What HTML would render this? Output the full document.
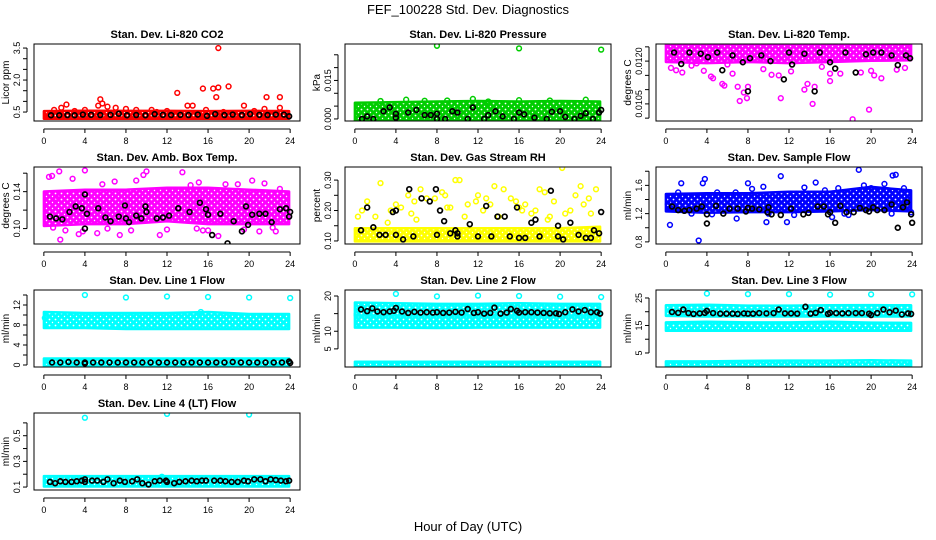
<!DOCTYPE html>
<html><head><meta charset="utf-8"><style>
body{margin:0;background:#fff;}
svg{display:block;font-family:"Liberation Sans",sans-serif;}
</style></head><body>
<svg id="chart" width="936" height="540">
<defs id="defs"></defs>
<text x="468" y="14" text-anchor="middle" font-size="13">FEF_100228  Std. Dev. Diagnostics</text>
<text x="468" y="531" text-anchor="middle" font-size="13">Hour of Day (UTC)</text>
</svg>
<script>
// shared x ticks
const xTicks = [0,4,8,12,16,20,24];
const bandHours = [0,4,8,12,16,20,23.9];

// P1 CO2
const co2BandLo = [0.28,0.28,0.28,0.28,0.28,0.28,0.28];
const co2BandHi = [0.45,0.47,0.46,0.46,0.45,0.46,0.45];
const co2X = [1,1.7,2.2,4,5.5,5.7,5.3,7,8,9,10.5,12,13,14,14.5,15.5,16.5,16.8,17,17.5,18,15.8,19.5,21.5,21.7,23,23,17,3,11,6.2,20.5];
const co2Y = [0.6,0.7,0.85,0.6,1.1,0.9,0.8,0.7,0.65,0.6,0.6,0.55,1.4,0.8,0.8,1.6,1.6,1.2,1.65,0.5,1.7,0.6,0.8,0.65,1.2,1.2,0.7,3.5,0.55,0.5,0.75,0.55];
const co2BX = [0.7,1.5,2.3,3,3.8,4.6,5.5,6.5,7.3,8.1,9,9.9,10.8,11.6,12.4,13.3,14.1,15,15.9,16.7,17.6,18.4,19.3,20.1,21,21.8,22.6,23.4,23.9];
const co2BY = [0.35,0.35,0.36,0.35,0.38,0.37,0.36,0.37,0.42,0.35,0.36,0.35,0.4,0.37,0.36,0.37,0.36,0.38,0.32,0.4,0.36,0.38,0.36,0.4,0.37,0.36,0.38,0.38,0.3];

// P2 Pressure
const prBandLo = [0.0,0.0,0.0,0.0,0.0,0.0,0.0];
const prBandHi = [0.0055,0.0058,0.006,0.0062,0.006,0.0062,0.006];
const prX = [8,16,24,5,9,11.5,16,22.5,13,19,2.5,6.8];
const prY = [0.0285,0.0275,0.027,0.0075,0.0072,0.0078,0.0073,0.0075,0.0068,0.0072,0.007,0.0071];
const prBX = [0.7,1.2,1.8,2.8,3.4,4,4,5.2,6,6.8,7.4,8,8,8.8,9.5,10,11,11.5,12.6,13,13.7,14.4,15.5,16,16.5,17.5,18.7,19.2,20,20.5,21.4,22,22.5,23.2,23.8,24];
const prBY = [0.0,0.001,0.0,0.003,0.0045,0.002,0.0005,0.0025,0.0035,0.0015,0.0015,0.002,0.0,0.0,0.003,0.0025,0.0,0.0045,0.0,0.0015,0.003,0.001,0.0,0.0025,0.0018,0.0005,0.0,0.0028,0.003,0.0008,0.0,0.0012,0.0022,0.0,0.0025,0.0035];

// P3 Li-820 Temp (units of 1e-4)
const ltBandLo = [115.2,115.0,115.2,115.0,115.2,115.4,115.5];
const ltBandHi = [118,118,118,118,118,118,118];
const ltX = [0.5,1.0,1.6,3.7,4.4,4.6,5.5,5.7,6.5,7.0,7.2,7.6,8.0,7.9,11.2,11.0,13.5,13.8,14.3,14.5,16.0,16.0,17.0,18.2,19.0,20.0,20.3,21.0,19.8,22.5,23.3,2.5,9.5,12.2,15.2,10.3,3.0,6.0];
const ltY = [113.8,113.4,113.0,113.3,112.3,112.0,111.0,110.7,112.8,110.5,108.0,109.5,110.5,108.5,108.5,112.5,110.0,111.0,107.5,110.5,111.5,112.8,112.8,104.8,113.0,113.3,112.5,112.0,106.5,113.5,113.8,114.2,113.6,113.2,114.0,112.6,114.6,114.4];
const ltBX = [0.8,1.5,2.3,3.4,4.1,5,5.5,6.5,7.5,8,8.2,9.3,10.2,11.5,12,12.3,13.5,14.5,15,16,16.5,17.5,18.5,19.5,20.2,21,22,22.6,23.4,23.8];
const ltBY = [116.5,114.5,116.5,116.3,115.7,116.5,113.4,116.0,114.8,109.7,115.5,116.0,115.0,111.8,116.5,114.4,116.3,109.7,116.5,114.8,113.7,116.5,113.0,116.2,116.5,116.5,116.0,114.3,116.0,115.5];

// P4 Amb Box Temp
const abBandLo = [0.105,0.107,0.107,0.11,0.107,0.107,0.107];
const abBandHi = [0.138,0.14,0.14,0.142,0.142,0.14,0.138];
const abX = [0.5,0.8,1.5,1.6,2.8,4.0,3.4,5.7,6.9,7.4,9.7,10,11.3,13.5,14.3,15.1,16,17,18.9,20.3,21.5,22.6,23,1.2,2.1,5.2,8.5,12,15.5,19.5,21,0.9,3.8,6.2,9,14.9,17.7,22.3];
const abY = [0.156,0.157,0.162,0.088,0.154,0.163,0.094,0.148,0.151,0.093,0.158,0.162,0.093,0.161,0.147,0.15,0.098,0.092,0.148,0.152,0.149,0.097,0.143,0.133,0.098,0.095,0.098,0.099,0.098,0.099,0.097,0.101,0.097,0.1,0.152,0.1,0.148,0.101];
const abBX = [0.6,1.2,1.8,2.5,3.1,3.7,4,4,4.2,5.3,6,6.5,7.3,7.9,8,8.3,9,9.5,9.9,10,11,11.6,12.2,13.1,14.2,15.2,15.8,16,16.4,17.2,17.9,18.5,19.3,19.7,19.9,20.3,21,21.6,22.2,23,23.6,23.9,24];
const abBY = [0.113,0.111,0.11,0.118,0.124,0.122,0.1,0.137,0.116,0.122,0.112,0.108,0.113,0.125,0.111,0.107,0.114,0.111,0.124,0.118,0.111,0.112,0.114,0.122,0.118,0.128,0.121,0.115,0.093,0.116,0.084,0.108,0.097,0.124,0.104,0.115,0.116,0.116,0.107,0.121,0.122,0.113,0.118];

// P5 Gas Stream RH
const rhBandLo = [0.105,0.105,0.105,0.105,0.105,0.105,0.105];
const rhBandHi = [0.135,0.135,0.135,0.135,0.135,0.135,0.14];
const rhX = [0.3,1.2,2.5,3.5,4.5,5.2,5.8,6.4,7.0,7.8,8.5,9.3,9.8,10.2,11,11.8,12.5,13.2,13.6,14.5,15.2,16,16.6,17.2,18,18.5,19.4,20.2,21,21.5,22,22.8,23.5,0.7,2.0,4.0,6.0,8.8,10.7,12.0,14.0,15.7,17.6,19.0,20.5,22.3,3.2,5.5,9.0,12.8,16.3,18.8,23.0];
const rhY = [0.18,0.23,0.29,0.2,0.21,0.25,0.23,0.27,0.24,0.24,0.26,0.21,0.3,0.3,0.22,0.23,0.2,0.22,0.28,0.27,0.24,0.21,0.22,0.19,0.27,0.26,0.23,0.34,0.2,0.25,0.28,0.24,0.27,0.2,0.18,0.22,0.17,0.25,0.18,0.25,0.18,0.23,0.2,0.18,0.19,0.22,0.16,0.19,0.21,0.24,0.2,0.17,0.19];
const rhBX = [0.6,1.2,1.8,2.4,3.0,3.7,4.0,4.0,4.7,5.3,5.7,6.5,7.3,7.9,8.0,8.3,8.7,9.3,9.8,10.0,10.0,11.2,12.0,12.8,13.3,13.9,14.6,15.1,15.8,16.0,16.6,17.2,17.6,18.0,19.1,19.8,19.8,20.3,21.0,21.8,22.5,23.0,23.3,23.8,24.0];
const rhBY = [0.135,0.21,0.145,0.12,0.12,0.195,0.12,0.2,0.105,0.27,0.115,0.24,0.23,0.27,0.12,0.2,0.165,0.125,0.135,0.115,0.125,0.155,0.115,0.215,0.115,0.18,0.18,0.115,0.21,0.11,0.11,0.16,0.17,0.115,0.265,0.115,0.15,0.105,0.16,0.12,0.11,0.11,0.135,0.125,0.195];

// P6 Sample Flow
const sfBandLo = [1.26,1.24,1.25,1.25,1.26,1.28,1.26];
const sfBandHi = [1.45,1.46,1.46,1.48,1.48,1.55,1.5];
const sfX = [0.2,0.4,1.5,3.2,3.8,3.6,5,6.9,8,8.4,10,9.5,11.2,11.8,13.5,14.6,15.5,16.2,16.8,17.4,18.8,19.3,20,21.3,22.1,22.4,23.2,23.9,1.2,9.8,22,6.8,2.5,4.5,12.5,17.8];
const sfY = [1.33,1.04,1.63,0.82,1.69,1.63,1.5,1.13,1.63,1.55,1.2,1.58,1.73,1.08,1.57,1.64,1.53,1.15,1.56,1.2,1.82,1.6,1.56,1.62,1.74,1.75,1.56,1.22,1.5,1.08,1.2,1.5,1.2,1.19,1.18,1.18];
const sfBX = [0.6,1.2,1.8,2.3,3.0,3.5,4.0,4.0,4.9,5.6,6.2,7.0,7.8,8.0,8.4,9.1,9.9,10.0,10.3,11.2,12.2,13.4,13.9,14.8,15.4,15.8,16.0,16.5,17.0,17.6,18.3,18.9,19.5,19.8,20.2,20.6,21.3,22.0,22.6,23.1,23.5,23.9,24.0];
const sfBY = [1.3,1.25,1.24,1.25,1.27,1.3,1.19,1.06,1.31,1.2,1.27,1.27,1.23,1.28,1.27,1.26,1.22,1.29,1.19,1.18,1.27,1.19,1.21,1.3,1.3,1.19,1.22,1.07,1.31,1.22,1.22,1.28,1.25,1.23,1.29,1.25,1.25,1.33,1.0,1.29,1.36,1.19,1.07];

// P7 Line 1 Flow
const l1BandLo = [7.8,7.8,7.6,7.6,7.6,7.6,7.6];
const l1BandHi = [10.2,10.0,10.0,10.0,10.2,9.8,9.8];
const l1Band2Lo = [0.2,0.2,0.2,0.2,0.2,0.2,0.2];
const l1Band2Hi = [0.9,0.9,0.9,0.9,0.9,0.9,0.9];
const l1X = [4,8,12,16,20,24,15.3,0.1];
const l1Y = [14,13.5,13.7,13.6,13.5,13.4,10.6,9.4];
const l1BX = [0.8,1.6,2.4,3.2,4,4,4.8,5.6,6.4,7.2,8,8.8,9.6,10.4,11.2,12,12.8,13.6,14.4,15.2,16,16.8,17.6,18.4,19.2,20,20.8,21.6,22.4,23.2,24,23.9];
const l1BY = [0.5,0.5,0.6,0.5,0.5,0.3,0.5,0.5,0.5,0.5,0.5,0.5,0.5,0.5,0.5,0.5,0.5,0.5,0.5,0.5,0.5,0.5,0.5,0.6,0.5,0.5,0.5,0.5,0.5,0.5,0.4,0.7];

// P8 Line 2 Flow
const l2BandLo = [11.6,11.6,11.5,11.6,11.6,11.6,11.6];
const l2BandHi = [14.4,14.2,14.2,14.2,14.3,14.2,14.2];
const l2Band2Lo = [15.0,15.0,15.0,15.0,15.0,15.0,15.0];
const l2Band2Hi = [17.6,17.4,17.2,17.2,17.4,17.2,17.2];
const l2Band3Lo = [0.1,0.1,0.1,0.1,0.1,0.1,0.1];
const l2Band3Hi = [0.8,0.8,0.8,0.8,0.8,0.8,0.8];
const l2X = [4,8,12,16,20,24,13.6];
const l2Y = [20.6,19.9,20.1,20.0,19.8,19.7,16.8];
const l2BX = [0.6,1.2,1.7,2.2,2.8,3.4,3.8,4.0,4.6,5.2,5.8,6.4,7.0,7.6,8.0,8.6,9.2,9.8,10.4,11.0,11.6,12.0,12.6,13.2,13.6,14.2,14.8,15.2,15.8,16.0,16.6,17.2,17.8,18.4,19.0,19.6,19.9,20.5,21.2,21.8,22.4,23.0,23.6,23.9];
const l2BY = [16.2,15.7,16.5,15.6,15.4,15.6,15.8,16.6,15.6,15.2,15.5,15.3,15.4,15.3,15.4,15.2,15.3,15.5,15.3,16.3,15.2,15.4,15.0,15.2,16.7,15.0,15.3,16.3,15.8,15.3,15.4,15.4,15.3,15.2,15.1,15.1,14.9,15.4,16.2,15.6,16.0,15.4,15.4,15.0];

// P9 Line 3 Flow
const l3BandLo = [19.2,19.0,19.0,19.0,19.0,19.0,19.0];
const l3BandHi = [21.6,21.8,21.5,21.5,21.6,21.7,21.6];
const l3Band2Lo = [13.8,13.8,13.8,13.8,13.8,13.8,13.8];
const l3Band2Hi = [15.4,15.6,15.4,15.4,15.6,15.3,15.2];
const l3Band3Lo = [0.2,0.2,0.2,0.2,0.2,0.2,0.2];
const l3Band3Hi = [1.2,1.2,1.4,1.5,1.5,1.6,1.5];
const l3X = [4,8,12,16,20,24];
const l3Y = [26.6,26.4,26.4,26.2,26.3,26.3];
const l3BX = [0.6,1.2,1.7,2.2,2.7,3.3,3.8,4.0,4.6,5.3,5.9,6.5,7.0,7.6,8.0,8.5,9.1,9.8,10.5,11.0,11.6,12.2,12.8,13.6,14.1,14.6,15.1,15.8,16.0,16.6,17.2,17.8,18.5,19.1,19.8,20.0,20.6,21.2,21.8,22.4,23.0,23.6,23.9];
const l3BY = [19.9,19.6,20.8,19.5,19.2,19.4,19.6,20.3,19.5,19.3,19.3,19.3,19.2,19.4,19.3,19.3,19.5,19.4,19.5,20.8,19.4,19.4,19.3,21.8,19.3,19.6,20.6,19.2,19.6,19.5,19.4,19.5,19.5,19.5,19.3,18.8,19.5,20.8,19.8,20.4,19.0,19.4,19.2];

// P10 Line 4 (LT) Flow
const l4BandLo = [0.12,0.12,0.12,0.12,0.12,0.12,0.12];
const l4BandHi = [0.17,0.17,0.17,0.17,0.17,0.17,0.17];
const l4X = [4,12,20,11.5];
const l4Y = [0.64,0.67,0.665,0.18];
const l4BX = [0.6,1.1,1.6,2.1,2.7,3.2,3.7,4.0,4.0,4.7,5.2,5.8,6.2,6.8,7.4,7.9,8.6,9.1,9.6,10.2,10.8,11.3,11.9,12.0,12.7,13.2,13.8,14.4,14.9,15.4,15.8,16.6,17.2,17.7,18.3,18.9,19.5,19.9,20.5,21.1,21.6,22.1,22.6,23.1,23.6,23.9];
const l4BY = [0.14,0.13,0.145,0.14,0.14,0.145,0.15,0.16,0.14,0.15,0.15,0.14,0.16,0.13,0.15,0.14,0.145,0.16,0.13,0.12,0.145,0.15,0.15,0.14,0.13,0.14,0.145,0.15,0.145,0.15,0.15,0.15,0.15,0.145,0.14,0.14,0.15,0.145,0.16,0.16,0.145,0.16,0.155,0.15,0.145,0.15];

const NS = 'http://www.w3.org/2000/svg';
const svg = document.getElementById('chart');
const defs = document.getElementById('defs');
function mk(tag, attrs, parent){
  const e = document.createElementNS(NS, tag);
  for (const k in attrs) e.setAttribute(k, attrs[k]);
  parent.appendChild(e);
  return e;
}

const panels = [
 {key:'co2',title:'Stan. Dev. Li-820 CO2',ylab:'Licor ppm',col:0,row:0,ymin:0.08,ymax:3.69,ticks:[0.5,1,1.5,2,2.5,3,3.5],labels:['0.5','','','2.0','','','3.5'],color:'#ff0000',bands:[[co2BandLo,co2BandHi]],px:co2X,py:co2Y,bx:co2BX,by:co2BY},
 {key:'pressure',title:'Stan. Dev. Li-820 Pressure',ylab:'kPa',col:1,row:0,ymin:-0.0008,ymax:0.0292,ticks:[0,0.005,0.01,0.015,0.02,0.025],labels:['0.000','','','0.015','',''],color:'#00cd00',bands:[[prBandLo,prBandHi]],px:prX,py:prY,bx:prBX,by:prBY},
 {key:'li-temp',title:'Stan. Dev. Li-820 Temp.',ylab:'degrees C',col:2,row:0,ymin:104.5,ymax:118,ticks:[105,107.5,110,112.5,115,117.5],labels:['','0.0105','','','0.0120',''],color:'#ff00ff',bands:[[ltBandLo,ltBandHi]],px:ltX,py:ltY,bx:ltBX,by:ltBY},
 {key:'amb-box',title:'Stan. Dev. Amb. Box Temp.',ylab:'degrees C',col:0,row:1,ymin:0.0833,ymax:0.1667,ticks:[0.1,0.12,0.14,0.16],labels:['0.10','','0.14',''],color:'#ff00ff',bands:[[abBandLo,abBandHi]],px:abX,py:abY,bx:abBX,by:abBY},
 {key:'rh',title:'Stan. Dev. Gas Stream RH',ylab:'percent',col:1,row:1,ymin:0.09,ymax:0.343,ticks:[0.1,0.15,0.2,0.25,0.3],labels:['0.10','','0.20','','0.30'],color:'#ffff00',bands:[[rhBandLo,rhBandHi]],px:rhX,py:rhY,bx:rhBX,by:rhBY},
 {key:'sample-flow',title:'Stan. Dev. Sample Flow',ylab:'ml/min',col:2,row:1,ymin:0.77,ymax:1.86,ticks:[0.8,1,1.2,1.4,1.6,1.8],labels:['0.8','','1.2','','1.6',''],color:'#0000ff',bands:[[sfBandLo,sfBandHi]],px:sfX,py:sfY,bx:sfBX,by:sfBY},
 {key:'line1',title:'Stan. Dev. Line 1 Flow',ylab:'ml/min',col:0,row:2,ymin:-0.4,ymax:15,ticks:[0,2,4,6,8,10,12,14],labels:['0','','4','','8','','12',''],color:'#00ffff',bands:[[l1BandLo,l1BandHi],[l1Band2Lo,l1Band2Hi]],px:l1X,py:l1Y,bx:l1BX,by:l1BY},
 {key:'line2',title:'Stan. Dev. Line 2 Flow',ylab:'ml/min',col:1,row:2,ymin:-0.14,ymax:21.7,ticks:[5,10,15,20],labels:['5','10','','20'],color:'#00ffff',bands:[[l2BandLo,l2BandHi],[l2Band2Lo,l2Band2Hi],[l2Band3Lo,l2Band3Hi]],px:l2X,py:l2Y,bx:l2BX,by:l2BY},
 {key:'line3',title:'Stan. Dev. Line 3 Flow',ylab:'ml/min',col:2,row:2,ymin:-0.1,ymax:27.9,ticks:[5,10,15,20,25],labels:['5','','15','','25'],color:'#00ffff',bands:[[l3BandLo,l3BandHi],[l3Band2Lo,l3Band2Hi],[l3Band3Lo,l3Band3Hi]],px:l3X,py:l3Y,bx:l3BX,by:l3BY},
 {key:'line4',title:'Stan. Dev. Line 4 (LT) Flow',ylab:'ml/min',col:0,row:3,ymin:0.077,ymax:0.677,ticks:[0.1,0.2,0.3,0.4,0.5,0.6],labels:['0.1','','0.3','','0.5',''],color:'#00ffff',bands:[[l4BandLo,l4BandHi]],px:l4X,py:l4Y,bx:l4BX,by:l4BY}
];

// ring-texture patterns for dense point clouds
const patMade = {};
function patternFor(color){
  const id = 'pat' + color.slice(1);
  if (patMade[id]) return id;
  patMade[id] = true;
  const pat = mk('pattern', {id: id, patternUnits: 'userSpaceOnUse', width: 6, height: 6}, defs);
  mk('rect', {x: 0, y: 0, width: 6, height: 6, fill: color}, pat);
  mk('circle', {cx: 1.5, cy: 1.5, r: 0.9, fill: '#fff'}, pat);
  mk('circle', {cx: 4.5, cy: 4.5, r: 0.7, fill: '#fff'}, pat);
  return id;
}

const colLeft = [34,345,656], rowTop = [44,167,290,413], W = 266, H = 77;
const XMIN = -0.96, XMAX = 24.96;

panels.forEach(p => {
  const L = colLeft[p.col], T = rowTop[p.row], B = T + H;
  const xs = v => L + (v - XMIN) / (XMAX - XMIN) * W;
  const ys = v => B - (v - p.ymin) / (p.ymax - p.ymin) * H;
  const g = mk('g', {}, svg);
  
  
  const clipId = 'clip-' + p.key;
  const cp = mk('clipPath', {id: clipId}, g);
  mk('rect', {x: L, y: T, width: W, height: H}, cp);
  const marks = mk('g', {'clip-path': 'url(#' + clipId + ')'}, g);
  const pid = patternFor(p.color);
  p.bands.forEach((bd) => {
    const lo = bd[0], hi = bd[1];
    let d = '';
    bandHours.forEach((h, i) => { d += (i ? 'L' : 'M') + xs(h).toFixed(1) + ',' + (ys(hi[i]) - 2).toFixed(1); });
    for (let i = bandHours.length - 1; i >= 0; i--) d += 'L' + xs(bandHours[i]).toFixed(1) + ',' + (ys(lo[i]) + 2).toFixed(1);
    d += 'Z';
    const band = mk('path', {d: d, fill: 'url(#' + pid + ')', stroke: p.color, 'stroke-width': 2.5, 'stroke-linejoin': 'round'}, marks);
    
    
  });
  p.px.forEach((x, i) => {
    const c = mk('circle', {cx: xs(x), cy: ys(p.py[i]), r: 2.4, fill: 'none', stroke: p.color, 'stroke-width': 1.5}, marks);
    
    
  });
  p.bx.forEach((x, i) => {
    const c = mk('circle', {cx: xs(x), cy: ys(p.by[i]), r: 2.4, fill: 'none', stroke: '#000', 'stroke-width': 1.7}, marks);
    
    
  });
  const box = mk('rect', {x: L, y: T, width: W, height: H, fill: 'none', stroke: '#000', 'stroke-width': 1}, g);
  
  
  const t = mk('text', {x: L + W / 2, y: T - 6, 'text-anchor': 'middle', 'font-size': 11, 'font-weight': 'bold'}, g);
  t.textContent = p.title;
  
  
  mk('line', {x1: xs(xTicks[0]), x2: xs(xTicks[xTicks.length - 1]), y1: B + 8, y2: B + 8, stroke: '#000'}, g);
  xTicks.forEach(v => {
    mk('line', {x1: xs(v), x2: xs(v), y1: B + 8, y2: B + 12, stroke: '#000'}, g);
    const tl = mk('text', {x: xs(v), y: B + 23, 'text-anchor': 'middle', 'font-size': 9}, g);
    tl.textContent = v;
    
    
  });
  const ax = L - 7;
  mk('line', {x1: ax, x2: ax, y1: ys(p.ticks[0]), y2: ys(p.ticks[p.ticks.length - 1]), stroke: '#000'}, g);
  p.ticks.forEach((v, i) => {
    mk('line', {x1: ax - 4, x2: ax, y1: ys(v), y2: ys(v), stroke: '#000'}, g);
    if (p.labels[i]) {
      const yl = mk('text', {x: 0, y: 0, 'text-anchor': 'middle', 'font-size': 9, transform: 'translate(' + (ax - 7) + ',' + ys(v) + ') rotate(-90)'}, g);
      yl.textContent = p.labels[i];
      
      
    }
  });
  const ylab = mk('text', {x: 0, y: 0, 'text-anchor': 'middle', 'font-size': 10, transform: 'translate(' + (L - 25) + ',' + (T + H / 2) + ') rotate(-90)'}, g);
  ylab.textContent = p.ylab;
  
  
});
</script>
</body></html>
